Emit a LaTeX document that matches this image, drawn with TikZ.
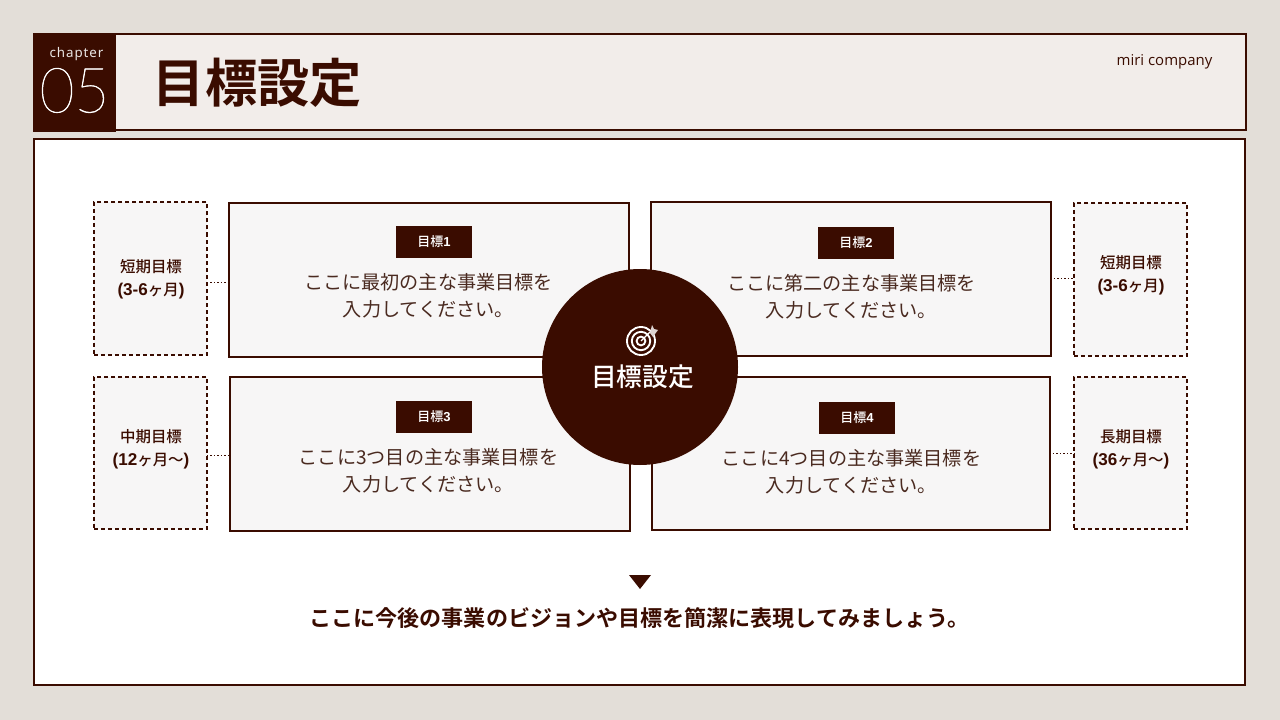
\documentclass[tikz,border=0pt]{standalone}
\usepackage{fontspec}
\setmainfont{Noto Sans CJK JP}
\newfontfamily\jpr{Noto Sans CJK JP}
\newfontfamily\jpb{Noto Sans CJK JP Bold}
\newfontfamily\jpm{Noto Sans CJK JP Medium}
\newfontfamily\lat{Noto Sans}
\newfontfamily\latm{Open Sans}
\newfontfamily\latb{Liberation Sans}
\newfontfamily\chapf[LetterSpace=7]{Noto Sans}
\newfontfamily\thinf[FakeBold=0.8]{Lato Thin}
\definecolor{ink}{HTML}{3A0C00}
\definecolor{page}{HTML}{E3DED8}
\definecolor{head}{HTML}{F2EDEA}
\definecolor{card}{HTML}{F7F6F6}
\definecolor{body}{HTML}{4A2A20}
\newcommand{\lb}[1]{{\latb\bfseries\fontsize{12.8}{17.2}\selectfont #1}}
\tikzset{
 cardbox/.style={draw=ink,line width=1.5pt,fill=card,rectangle,inner sep=0pt,outer sep=0pt},
 shortbox/.style={draw=ink,line width=1.5pt,dash pattern=on 3pt off 2.25pt,fill=card,rectangle,inner sep=0pt,outer sep=0pt},
 badge/.style={fill=ink,text=white,rectangle,inner sep=0pt,outer sep=0pt,minimum width=57pt,minimum height=24pt,font=\jpm\fontsize{9.75}{12}\selectfont},
 cardtxt/.style={text=body,align=center,font=\jpr\fontsize{14.35}{20}\selectfont,inner sep=0pt},
 shorttxt/.style={text=ink,align=center,font=\jpm\fontsize{11.6}{17.2}\selectfont,inner sep=0pt},
 dotline/.style={draw=ink,line width=0.75pt,dash pattern=on 1pt off 1.6pt},
 ring/.style={draw=white,line width=1.4pt},
}
\begin{document}
\begin{tikzpicture}[x=0.75pt,y=-0.75pt]
\useasboundingbox (0,0) rectangle (1280,720);
\fill[page] (0,0) rectangle (1280,720);
% header
\node[draw=ink,line width=1.5pt,fill=head,rectangle,inner sep=0pt,outer sep=0pt,minimum width=1212*0.75pt,minimum height=96*0.75pt] (header) at (640,82) {};
\node[fill=ink,rectangle,inner sep=0pt,outer sep=0pt,minimum width=83*0.75pt,minimum height=99*0.75pt] (chap) at (74.5,82.5) {};
\node[text=white!90!ink,font=\chapf\fontsize{10}{12}\selectfont,inner sep=0pt] (chapt) at (76.5,54.5) {chapter};
\node[text=white,font=\thinf\fontsize{47}{50}\selectfont,inner sep=0pt] (num) at (74.5,90.5) {\scalebox{0.96}[1]{05}};
\node[text=ink,font=\jpb\fontsize{39.2}{44}\selectfont,inner sep=0pt] (title) at (257.5,83) {目標設定};
\node[text=ink,font=\latm\fontsize{11.2}{13}\selectfont,inner sep=0pt] (comp) at (1164.5,61.5) {miri company};
% main
\node[draw=ink,line width=1.5pt,fill=white,rectangle,inner sep=0pt,outer sep=0pt,minimum width=1211*0.75pt,minimum height=545*0.75pt] (main) at (639.5,412) {};
% cards
\node[cardbox,minimum width=400*0.75pt,minimum height=154*0.75pt] (c1) at (429,280) {};
\node[cardbox,minimum width=400*0.75pt,minimum height=154*0.75pt] (c2) at (850.5,279) {};
\node[cardbox,minimum width=400*0.75pt,minimum height=154*0.75pt] (c3) at (429.5,454) {};
\node[cardbox,minimum width=398*0.75pt,minimum height=153*0.75pt] (c4) at (850.5,453.5) {};
% short boxes
\node[shortbox,minimum width=113*0.75pt,minimum height=152*0.75pt] (s1) at (150.5,278.5) {};
\node[shortbox,minimum width=113*0.75pt,minimum height=152*0.75pt] (s2) at (1130.5,279.5) {};
\node[shortbox,minimum width=113*0.75pt,minimum height=152*0.75pt] (s3) at (150.5,452.5) {};
\node[shortbox,minimum width=113*0.75pt,minimum height=152*0.75pt] (s4) at (1130.5,452.5) {};
% connectors
\coordinate (y1) at (0,282); \coordinate (y2) at (0,278); \coordinate (y3) at (0,455); \coordinate (y4) at (0,453);
\draw[dotline] (s1.east |- y1) -- (c1.west |- y1);
\draw[dotline] (c2.east |- y2) -- (s2.west |- y2);
\draw[dotline] (s3.east |- y3) -- (c3.west |- y3);
\draw[dotline] (c4.east |- y4) -- (s4.west |- y4);
% short labels
\node[shorttxt] (t1) at (151,279.5) {短期目標\\\lb{(3-6}ヶ月\lb{)}};
\node[shorttxt] (t2) at (1131,275.5) {短期目標\\\lb{(3-6}ヶ月\lb{)}};
\node[shorttxt] (t3) at (151,449.5) {中期目標\\\lb{(12}ヶ月〜\lb{)}};
\node[shorttxt] (t4) at (1131,449.5) {長期目標\\\lb{(36}ヶ月〜\lb{)}};
% badges
\node[badge] (b1) at (434,242) {\raisebox{-0.6pt}{目標\lb{\fontsize{9.75}{12}\selectfont 1}}};
\node[badge] (b2) at (856,243) {\raisebox{-0.6pt}{目標\lb{\fontsize{9.75}{12}\selectfont 2}}};
\node[badge] (b3) at (434,417) {\raisebox{-0.6pt}{目標\lb{\fontsize{9.75}{12}\selectfont 3}}};
\node[badge] (b4) at (857,418) {\raisebox{-0.6pt}{目標\lb{\fontsize{9.75}{12}\selectfont 4}}};
% card text
\node[cardtxt] (x1) at (428.5,295.5) {ここに最初の主な事業目標を\\入力してください。};
\node[cardtxt] (x2) at (851.5,296.5) {ここに第二の主な事業目標を\\入力してください。};
\node[cardtxt] (x3) at (428.5,470.5) {ここに3つ目の主な事業目標を\\入力してください。};
\node[cardtxt] (x4) at (851.5,471.5) {ここに4つ目の主な事業目標を\\入力してください。};
% centre
\node[circle,fill=ink,inner sep=0pt,outer sep=0pt,minimum size=196*0.75pt] (hub) at (640,367) {};
\node[text=white,font=\jpm\fontsize{19.3}{24}\selectfont,inner sep=0pt] (hubt) at (642.5,377) {目標設定};
\coordinate (ic) at (641,341);
\draw[ring] (ic) circle[radius=14];
\draw[ring] (ic) circle[radius=9.2];
\draw[ring] (ic) circle[radius=4.4];
\draw[ring,line width=1pt] (ic) -- ++(9,-9);
\fill[white!82!ink] (650,333) -- (652,325) -- (654,329) -- (658,330) -- (655,334) -- (653,337) -- cycle;
% bottom
\fill[ink] (629,575) -- (651,575) -- (640,589) -- cycle;
\node[text=ink,font=\jpb\fontsize{16.55}{20}\selectfont,inner sep=0pt] (msg) at (639.5,618) {ここに今後の事業のビジョンや目標を簡潔に表現してみましょう。};
\end{tikzpicture}
\end{document}
